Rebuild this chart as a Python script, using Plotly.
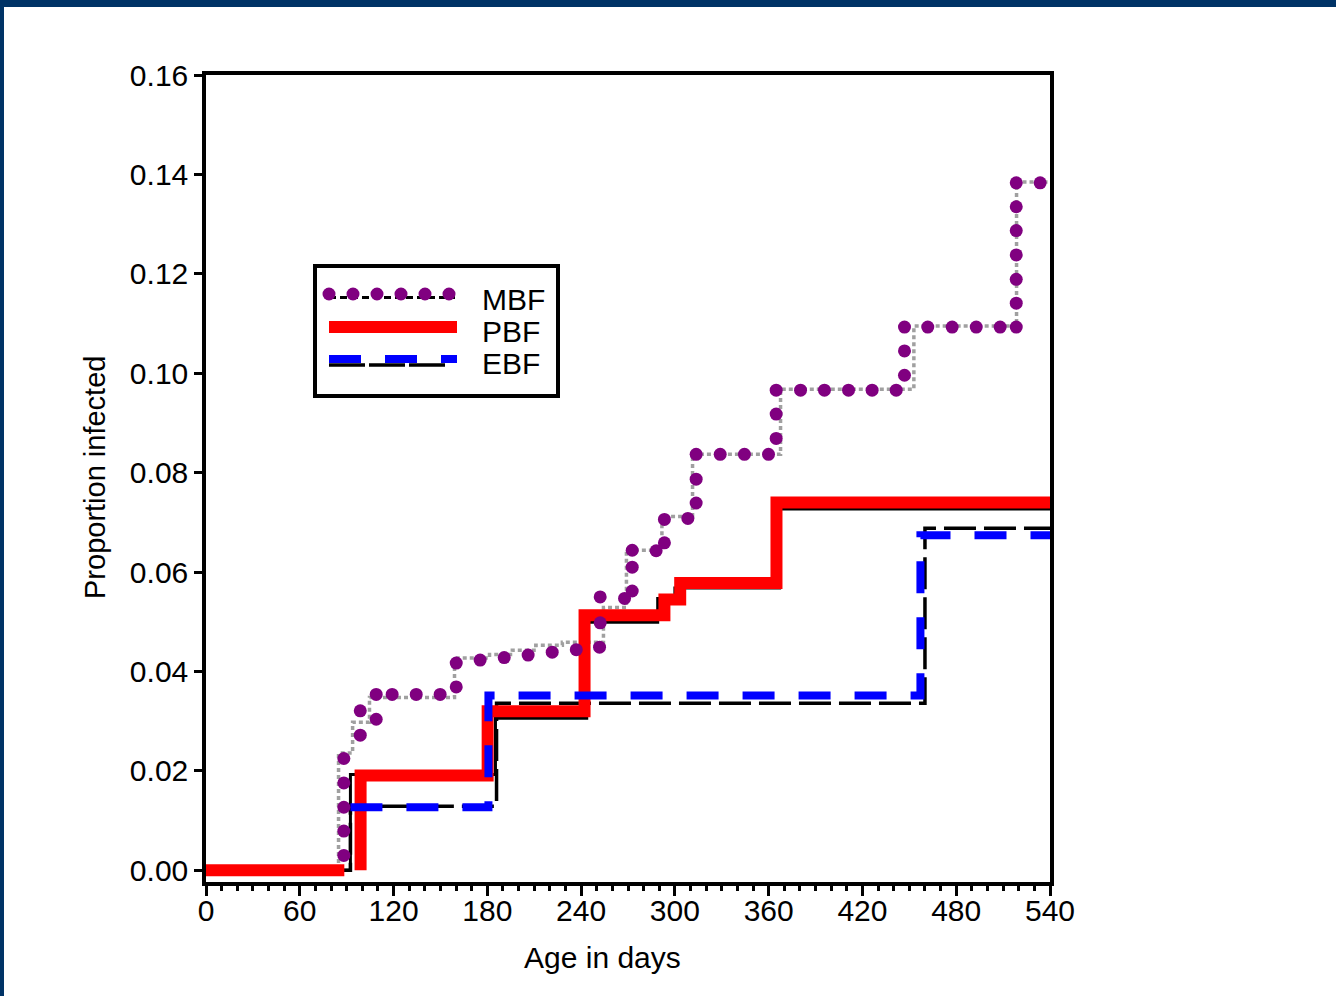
import plotly.graph_objects as go

# ---------------- data ----------------
# MBF : thin dotted Kaplan-Meier step line
mbf_days = [0, 84.8, 93.8, 104.6, 159.0, 181.4, 196.0, 211.0, 228.0, 254.3, 269.0, 291.7, 311.3, 367.6, 452.9, 518.6, 540]
mbf_vals = [0, 0.0236, 0.0298, 0.0348, 0.0427, 0.0434, 0.0443, 0.0453, 0.0459, 0.0529, 0.0644, 0.0712, 0.0837, 0.0968, 0.1095, 0.1385, 0.1385]

# MBF : purple dots laid along the curve
mbf_dot_days = [88.2, 88.2, 88.2, 88.2, 88.2, 98.7, 98.7, 108.9, 108.9, 119.1, 134.5, 149.8,
                160.1, 160.1, 175.4, 190.8, 206.1, 221.5, 236.9, 251.8, 252.2, 252.2, 267.8,
                272.7, 272.7, 272.7, 288.0, 293.3, 293.3, 308.3, 313.6, 313.6, 313.6, 329.0,
                344.5, 359.9, 364.8, 364.8, 364.8, 380.4, 395.7, 411.1, 426.2, 441.6, 446.9,
                446.9, 446.9, 461.8, 477.4, 492.8, 508.1, 518.4, 518.4, 518.4, 518.4, 518.4,
                518.4, 518.4, 533.7]
mbf_dot_vals = [0.0030, 0.0079, 0.0127, 0.0176, 0.0225, 0.0272, 0.0321, 0.0304, 0.0354, 0.0354,
                0.0354, 0.0354, 0.0369, 0.0417, 0.0423, 0.0428, 0.0433, 0.0439, 0.0444, 0.0449,
                0.0498, 0.0550, 0.0547, 0.0562, 0.0610, 0.0644, 0.0643, 0.0659, 0.0706, 0.0708,
                0.0739, 0.0787, 0.0837, 0.0837, 0.0837, 0.0837, 0.0869, 0.0918, 0.0966, 0.0966,
                0.0966, 0.0966, 0.0966, 0.0966, 0.0996, 0.1045, 0.1093, 0.1093, 0.1093, 0.1093,
                0.1093, 0.1093, 0.1141, 0.1189, 0.1238, 0.1287, 0.1335, 0.1383, 0.1383]

# PBF : thin black step line and thick red overlay
pbf_km_days = [0, 92.4, 185.2, 243.6, 289.0, 300.0, 367.0, 540]
pbf_km_vals = [0, 0.0193, 0.0306, 0.0499, 0.0547, 0.0568, 0.0727, 0.0727]
pbf_days = [0, 88.5, None, 98.9, 98.9, 180.2, 242.2, 293.3, 303.4, 365.0, 540]
pbf_vals = [0, 0, None, 0, 0.0191, 0.0320, 0.0513, 0.0545, 0.0578, 0.0740, 0.0740]

# EBF : black dashed step line and thick blue dashed overlay
ebf_km_days = [0, 92.4, 185.9, 460.0, 540]
ebf_km_vals = [0, 0.0129, 0.0336, 0.0688, 0.0688]
ebf_days = [92.4, 180.7, 457.1, 540]
ebf_vals = [0.0127, 0.0352, 0.0674, 0.0674]

x_ticks = [0, 60, 120, 180, 240, 300, 360, 420, 480, 540]
y_ticks = [0.00, 0.02, 0.04, 0.06, 0.08, 0.10, 0.12, 0.14, 0.16]
legend_names = ["MBF", "PBF", "EBF"]

# ---------------- layout geometry ----------------
W, H = 1336, 996
ML, MR, MT, MB = 206, 286, 75, 114
PW, PH = W - ML - MR, H - MT - MB
FONT = "Liberation Sans, Arial, sans-serif"


def xp(px):
    return (px - ML) / PW


def yp(py):
    return (H - MB - py) / PH


fig = go.Figure()

fig.add_trace(go.Scatter(x=ebf_km_days, y=ebf_km_vals, mode="lines", line_shape="hv",
                         line=dict(color="black", width=3.5, dash="32px,8px"), showlegend=False))
fig.add_trace(go.Scatter(x=pbf_km_days, y=pbf_km_vals, mode="lines", line_shape="hv",
                         line=dict(color="black", width=3), showlegend=False))
fig.add_trace(go.Scatter(x=mbf_days, y=mbf_vals, mode="lines", line_shape="hv",
                         line=dict(color="#a0a0a0", width=3.5, dash="4px,3px"), showlegend=False))
fig.add_trace(go.Scatter(x=pbf_days, y=pbf_vals, mode="lines", line_shape="hv", connectgaps=False,
                         line=dict(color="#ff0000", width=12), showlegend=False))
fig.add_trace(go.Scatter(x=ebf_days, y=ebf_vals, mode="lines", line_shape="hv",
                         line=dict(color="#0000ff", width=8, dash="32px,24px"), showlegend=False))
fig.add_trace(go.Scatter(x=mbf_dot_days, y=mbf_dot_vals, mode="markers",
                         marker=dict(color="#800080", size=13, line=dict(width=0)), showlegend=False))

shapes = []
# page border (dark blue strips at top and left)
shapes.append(dict(type="rect", xref="paper", yref="paper", x0=xp(0), x1=xp(W), y0=yp(7), y1=yp(0),
                   fillcolor="#003366", line=dict(width=0), layer="below"))
shapes.append(dict(type="rect", xref="paper", yref="paper", x0=xp(0), x1=xp(4), y0=yp(H), y1=yp(0),
                   fillcolor="#003366", line=dict(width=0), layer="below"))

# custom legend
shapes.append(dict(type="rect", xref="paper", yref="paper", x0=xp(315), x1=xp(558), y0=yp(396), y1=yp(266),
                   line=dict(color="black", width=4), fillcolor="white"))
shapes.append(dict(type="line", xref="paper", yref="paper", x0=xp(329), x1=xp(455), y0=yp(297.5), y1=yp(297.5),
                   line=dict(color="black", width=3, dash="7px,4px")))
for cx in [329, 353, 377, 401, 425, 449]:
    shapes.append(dict(type="circle", xref="paper", yref="paper", x0=xp(cx - 6.5), x1=xp(cx + 6.5),
                       y0=yp(294 + 6.5), y1=yp(294 - 6.5), fillcolor="#800080", line=dict(width=0)))
shapes.append(dict(type="line", xref="paper", yref="paper", x0=xp(329), x1=xp(457), y0=yp(327), y1=yp(327),
                   line=dict(color="#ff0000", width=12)))
shapes.append(dict(type="line", xref="paper", yref="paper", x0=xp(329), x1=xp(445), y0=yp(365), y1=yp(365),
                   line=dict(color="black", width=3.5, dash="36px,4px")))
shapes.append(dict(type="line", xref="paper", yref="paper", x0=xp(329), x1=xp(457), y0=yp(359), y1=yp(359),
                   line=dict(color="#0000ff", width=8, dash="32px,24px")))

annotations = []
for name, cy in zip(legend_names, [299, 331, 363]):
    annotations.append(dict(text=name, xref="paper", yref="paper", x=xp(480), y=yp(cy),
                            xanchor="left", yanchor="middle", showarrow=False,
                            font=dict(family=FONT, size=30, color="black")))
annotations.append(dict(text="Age in days", xref="paper", yref="paper", x=xp(602), y=yp(957),
                        xanchor="center", yanchor="middle", showarrow=False,
                        font=dict(family=FONT, size=30, color="black")))
annotations.append(dict(text="Proportion infected", xref="paper", yref="paper", x=xp(95), y=yp(478),
                        xanchor="center", yanchor="middle", showarrow=False, textangle=-90,
                        font=dict(family=FONT, size=29, color="black")))

fig.update_layout(
    width=W, height=H,
    margin=dict(l=ML, r=MR, t=MT, b=MB, pad=0),
    paper_bgcolor="white", plot_bgcolor="white",
    shapes=shapes, annotations=annotations,
    font=dict(family=FONT, size=30, color="black"),
    showlegend=False,
)
fig.update_xaxes(range=[0, 540], tickmode="array", tickvals=x_ticks, ticktext=[str(v) for v in x_ticks],
                 ticks="outside", ticklen=10, tickwidth=3, tickcolor="black",
                 minor=dict(dtick=10, ticks="outside", ticklen=5, tickwidth=2.5, tickcolor="black"),
                 showline=True, linewidth=3.5, linecolor="black", mirror=True,
                 showgrid=False, zeroline=False, tickfont=dict(family=FONT, size=30),
                 ticklabelstandoff=-11)
fig.update_yaxes(range=[-0.00234, 0.16], tickmode="array", tickvals=y_ticks,
                 ticktext=["%.2f" % v for v in y_ticks],
                 ticks="outside", ticklen=8, tickwidth=3, tickcolor="black",
                 showline=True, linewidth=3.5, linecolor="black", mirror=True,
                 showgrid=False, zeroline=False, tickfont=dict(family=FONT, size=30))

fig.write_html("out.html",
               config={"displayModeBar": False},
               post_script="document.body.style.margin='0';document.body.style.padding='0';")
